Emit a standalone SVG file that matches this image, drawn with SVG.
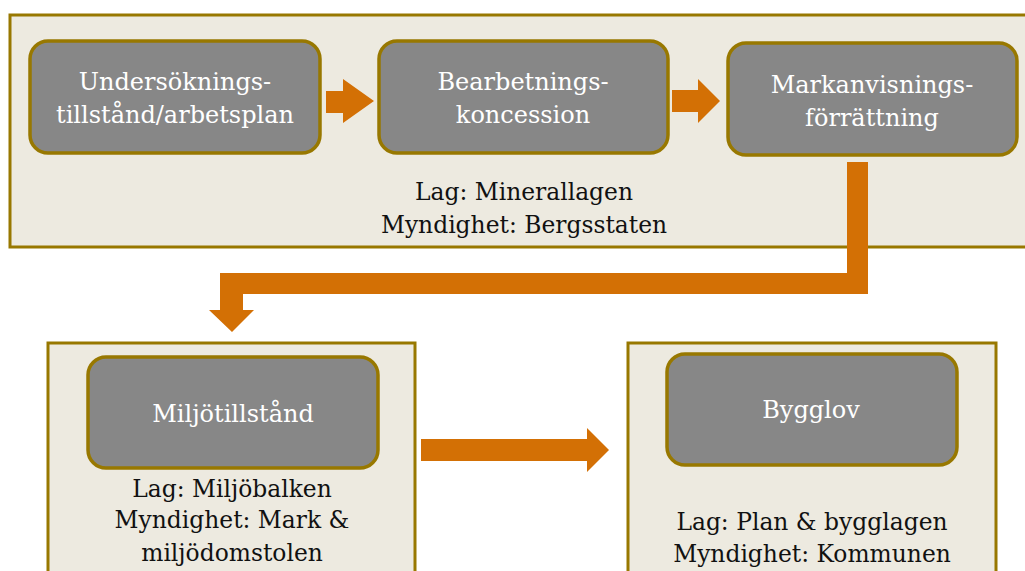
<svg xmlns="http://www.w3.org/2000/svg" width="1025" height="571" viewBox="0 0 1025 571">
<style>
.outer{fill:#edeae0;stroke:#987800;stroke-width:3}
.inner{fill:#878787;stroke:#987800;stroke-width:3.5}
.arrow{fill:#d37005}
text{font-family:"DejaVu Serif","Liberation Serif",serif;text-anchor:middle}
.w{fill:#ffffff;font-size:24px}
.b{fill:#111111;font-size:23.4px}
</style>
<rect width="1025" height="571" fill="#ffffff"/>
<g id="group-top">
<rect class="outer" x="10" y="15" width="1030" height="232"/>
<text class="b" x="524" y="200">Lag: Minerallagen</text>
<text class="b" x="524" y="233">Myndighet: Bergsstaten</text>
</g>
<g id="node-undersokning">
<rect class="inner" x="30" y="41" width="290" height="112" rx="18"/>
<text class="w" x="175" y="90">Undersöknings-</text>
<text class="w" x="175" y="123">tillstånd/arbetsplan</text>
</g>
<g id="node-bearbetning">
<rect class="inner" x="379" y="41" width="289" height="112" rx="18"/>
<text class="w" x="523" y="90">Bearbetnings-</text>
<text class="w" x="523" y="123">koncession</text>
</g>
<g id="node-markanvisning">
<rect class="inner" x="728" y="43" width="289" height="112" rx="18"/>
<text class="w" x="872" y="93">Markanvisnings-</text>
<text class="w" x="872" y="126">förrättning</text>
</g>
<g id="group-miljo">
<rect class="outer" x="48" y="343" width="367" height="240"/>
<text class="b" x="232" y="497">Lag: Miljöbalken</text>
<text class="b" x="232" y="528">Myndighet: Mark &amp;</text>
<text class="b" x="232" y="561">miljödomstolen</text>
</g>
<g id="node-miljotillstand">
<rect class="inner" x="88" y="357" width="290" height="111" rx="18"/>
<text class="w" x="233" y="422">Miljötillstånd</text>
</g>
<g id="group-bygg">
<rect class="outer" x="628" y="343" width="368" height="240"/>
<text class="b" x="812" y="530">Lag: Plan &amp; bygglagen</text>
<text class="b" x="812" y="562">Myndighet: Kommunen</text>
</g>
<g id="node-bygglov">
<rect class="inner" x="667" y="354" width="290" height="111" rx="18"/>
<text class="w" x="811" y="418">Bygglov</text>
</g>
<g id="connectors">
<polygon class="arrow" points="326,91 343,91 343,79 374,101 343,123 343,113 326,113"/>
<polygon class="arrow" points="672,90 698,90 698,79 720,101 698,123 698,112 672,112"/>
<polygon class="arrow" points="847,162 868,162 868,294 243,294 243,310 254,310 232,332 209,310 220,310 220,273 847,273"/>
<polygon class="arrow" points="421,439 587,439 587,428 609,450 587,472 587,461 421,461"/>
</g>
</svg>
